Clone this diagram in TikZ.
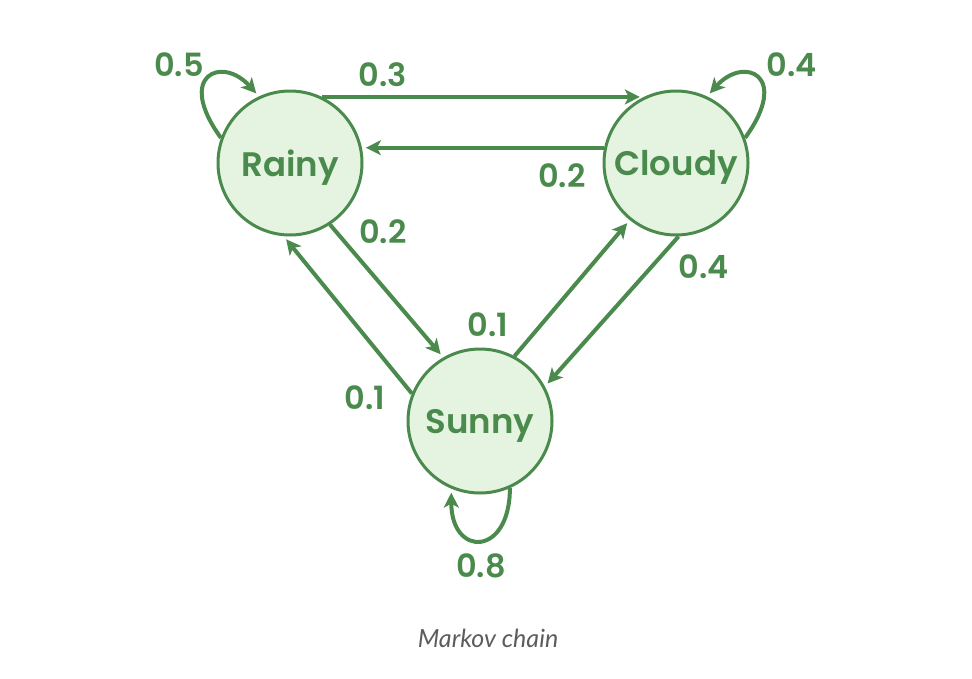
\documentclass[tikz,border=0pt]{standalone}
\usepackage{fontspec}
\setmainfont{Poppins}[BoldFont=* SemiBold]
\newfontfamily\capfont{Lato}
\usepackage{tikz}
\usetikzlibrary{arrows.meta}
\definecolor{mkgreen}{HTML}{4A8A4C}
\definecolor{mkfill}{HTML}{E4F4E1}
\definecolor{mkgray}{HTML}{5C5C5C}

\begin{document}
\begin{tikzpicture}[x=1pt, y=1pt, shorten >=4pt,
   state/.style={circle, draw=mkgreen, fill=mkfill, line width=3pt, minimum size=144pt,
                 inner sep=0pt, text=mkgreen, text depth=0pt,
                 font=\fontsize{34}{40}\selectfont\bfseries},
   prob/.style={text=mkgreen, inner sep=1pt, font=\fontsize{32}{38}\selectfont\bfseries},
   every edge/.style={draw=mkgreen, line width=4pt},
   >={Stealth[length=15pt,width=15pt,inset=4pt]}]
   \useasboundingbox (0,0) rectangle (972,-678);

   \node[state] (rainy)  at (290,-163) {Rainy};
   \node[state] (cloudy) at (676,-163) {Cloudy};
   \node[state] (sunny)  at (480,-421) {Sunny};

   \path[->]
    (rainy.64)   edge (cloudy.116)
    (cloudy.168) edge (rainy.12)
    (rainy.-57)  edge (sunny.120)
    (sunny.158)  edge (rainy.-95)
    (sunny.62)   edge (cloudy.-129)
    (cloudy.-88) edge (sunny.28)
    (rainy.160)  edge[out=126, in=132, out distance=78pt, in distance=55pt] (rainy.115)
    (cloudy.20)  edge[out=54, in=48, out distance=78pt, in distance=55pt]   (cloudy.65)
    (sunny.-66)  edge[out=-90, in=-90, looseness=3] (sunny.-113);

   % transition probabilities
   \node[prob] (prr) at (179,-65)  {0.5};
   \node[prob] (prc) at (383,-75)  {0.3};
   \node[prob] (pcr) at (562,-176) {0.2};
   \node[prob] (prs) at (383,-232) {0.2};
   \node[prob] (psr) at (365,-398) {0.1};
   \node[prob] (psc) at (488,-325) {0.1};
   \node[prob] (pcs) at (704,-267) {0.4};
   \node[prob] (pcc) at (792,-65)  {0.4};
   \node[prob] (pss) at (481,-566) {0.8};

   \node[text=mkgray, font=\capfont\itshape\fontsize{25}{30}\selectfont] (caption) at (488,-638) {Markov chain};
\end{tikzpicture}
\end{document}
